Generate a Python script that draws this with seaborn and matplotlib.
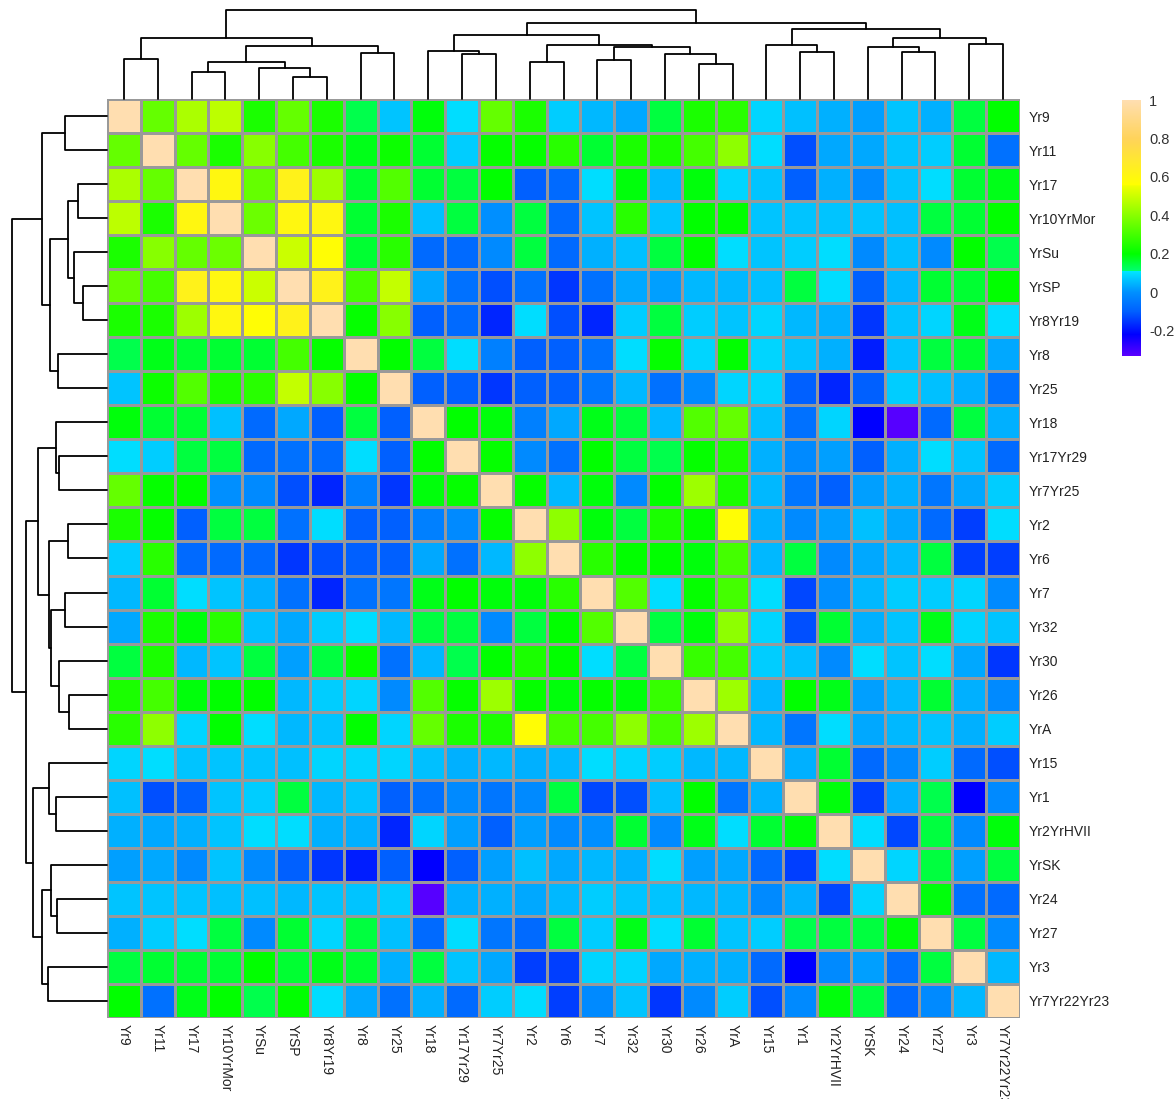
import numpy as np
import pandas as pd
import seaborn as sns
import matplotlib
matplotlib.use("Agg")
import matplotlib.pyplot as plt
from matplotlib.colors import LinearSegmentedColormap

# row / column order as shown (already clustered)
labels = ["Yr9", "Yr11", "Yr17", "Yr10YrMor", "YrSu", "YrSP", "Yr8Yr19", "Yr8", "Yr25",
          "Yr18", "Yr17Yr29", "Yr7Yr25", "Yr2", "Yr6", "Yr7", "Yr32", "Yr30", "Yr26",
          "YrA", "Yr15", "Yr1", "Yr2YrHVII", "YrSK", "Yr24", "Yr27", "Yr3", "Yr7Yr22Yr23"]

# upper triangle of the correlation matrix, row i holds columns i+1 .. end
upper_tri = [
    [0.35, 0.45, 0.48, 0.24, 0.35, 0.24, 0.14, 0.07, 0.19, 0.10, 0.35, 0.24, 0.08, 0.05, 0.03, 0.15, 0.24,
     0.26, 0.09, 0.06, 0.04, 0.02, 0.07, 0.04, 0.15, 0.20],
    [0.35, 0.24, 0.40, 0.30, 0.24, 0.18, 0.22, 0.16, 0.08, 0.21, 0.21, 0.26, 0.16, 0.24, 0.24, 0.30,
     0.41, 0.10, -0.12, 0.03, 0.03, 0.07, 0.08, 0.16, -0.06],
    [0.60, 0.35, 0.63, 0.43, 0.16, 0.32, 0.16, 0.15, 0.20, -0.10, -0.08, 0.10, 0.19, 0.05, 0.19,
     0.09, 0.07, -0.10, 0.04, -0.01, 0.07, 0.10, 0.16, 0.18],
    [0.36, 0.60, 0.60, 0.16, 0.24, 0.06, 0.15, 0.00, 0.15, -0.08, 0.07, 0.26, 0.07, 0.20,
     0.20, 0.07, 0.07, 0.07, 0.07, 0.06, 0.15, 0.16, 0.20],
    [0.50, 0.57, 0.16, 0.26, -0.08, -0.08, -0.01, 0.15, -0.08, 0.04, 0.06, 0.15, 0.20,
     0.10, 0.07, 0.08, 0.10, -0.01, 0.06, -0.01, 0.20, 0.14],
    [0.63, 0.30, 0.49, 0.03, -0.06, -0.12, -0.06, -0.15, -0.06, 0.03, 0.02, 0.05,
     0.05, 0.06, 0.15, 0.10, -0.10, 0.05, 0.16, 0.16, 0.20],
    [0.21, 0.40, -0.10, -0.08, -0.17, 0.10, -0.12, -0.17, 0.08, 0.15, 0.08,
     0.07, 0.09, 0.05, 0.04, -0.15, 0.07, 0.09, 0.18, 0.10],
    [0.20, 0.15, 0.10, -0.03, -0.10, -0.10, -0.06, 0.10, 0.21, 0.09,
     0.20, 0.09, 0.07, 0.04, -0.18, 0.07, 0.15, 0.16, 0.03],
    [-0.10, -0.10, -0.15, -0.10, -0.10, -0.05, 0.05, -0.06, -0.01,
     0.09, 0.09, -0.10, -0.17, -0.10, 0.08, 0.06, 0.04, -0.06],
    [0.20, 0.19, -0.03, 0.03, 0.18, 0.15, 0.05, 0.32, 0.35, 0.06, -0.06, 0.09, -0.22, -0.32, -0.08, 0.15, 0.04],
    [0.21, -0.01, -0.06, 0.20, 0.15, 0.14, 0.21, 0.24, 0.04, -0.01, 0.02, -0.10, 0.04, 0.10, 0.07, -0.08],
    [0.21, 0.05, 0.19, -0.01, 0.20, 0.43, 0.24, 0.05, -0.05, -0.10, 0.02, 0.04, -0.05, 0.03, 0.08],
    [0.41, 0.19, 0.15, 0.24, 0.21, 0.57, 0.04, -0.01, 0.02, 0.06, 0.03, -0.08, -0.14, 0.10],
    [0.26, 0.20, 0.20, 0.19, 0.30, 0.05, 0.15, -0.01, 0.03, 0.05, 0.15, -0.14, -0.14],
    [0.32, 0.10, 0.21, 0.30, 0.10, -0.13, 0.00, 0.05, 0.08, 0.08, 0.09, -0.01],
    [0.15, 0.19, 0.41, 0.09, -0.12, 0.16, 0.04, 0.07, 0.18, 0.09, 0.07],
    [0.28, 0.30, 0.08, 0.06, -0.01, 0.10, 0.07, 0.10, 0.03, -0.15],
    [0.43, 0.05, 0.20, 0.18, 0.02, 0.05, 0.16, 0.04, -0.01],
    [0.05, -0.05, 0.10, 0.03, 0.05, 0.07, 0.04, 0.08],
    [0.04, 0.16, -0.08, -0.01, 0.08, -0.08, -0.12],
    [0.19, -0.14, 0.04, 0.14, -0.22, -0.01],
    [0.10, -0.13, 0.15, -0.01, 0.19],
    [0.09, 0.15, 0.02, 0.15],
    [0.19, -0.06, -0.08],
    [0.15, -0.01],
    [0.05],
]

# dendrogram merges (scipy style: ids >= 27 are earlier merges), with heights
merges = [
    (0, 1, 119), (2, 3, 81), (5, 6, 67), (4, 29, 92), (28, 30, 111), (7, 8, 139),
    (31, 32, 160), (27, 33, 184), (10, 11, 134), (9, 35, 144), (12, 13, 110),
    (14, 15, 118), (17, 18, 106), (16, 39, 135), (38, 40, 156), (37, 41, 163),
    (36, 42, 193), (20, 21, 142), (19, 44, 163), (23, 24, 140), (22, 46, 157),
    (25, 26, 166), (47, 48, 184), (45, 49, 209), (43, 50, 227), (34, 51, 267),
]

cbar_ticks = [-0.2, 0, 0.2, 0.4, 0.6, 0.8, 1]
cbar_ticklabels = ["-0.2", "0", "0.2", "0.4", "0.6", "0.8", "1"]

n = len(labels)
mat = np.eye(n)
for i, row in enumerate(upper_tri):
    for k, v in enumerate(row):
        j = i + 1 + k
        mat[i, j] = v
        mat[j, i] = v
df = pd.DataFrame(mat, index=labels, columns=labels)

vmin, vmax = -0.33, 1.0
stops = [(-0.33, "#5a00ff"), (-0.22, "#0000ff"), (-0.1, "#0060ff"), (0.0, "#0090ff"),
         (0.109, "#00e6ff"), (0.111, "#00ff70"), (0.2, "#00ff00"), (0.555, "#f0ff00"),
         (0.56, "#ffff00"), (0.8, "#ffd35a"), (1.0, "#ffdeb0")]
cmap = LinearSegmentedColormap.from_list(
    "corr", [((v - vmin) / (vmax - vmin), c) for v, c in stops])

sns.set_style("white")
plt.rcParams["font.family"] = ["Liberation Sans", "DejaVu Sans"]

W, H = 1175, 1099
fig = plt.figure(figsize=(W / 100, H / 100), dpi=100)
ax_hm = fig.add_axes([107 / W, (H - 1018) / H, 913 / W, 919 / H])
ax_top = fig.add_axes([107 / W, (H - 99) / H, 913 / W, 89 / H])
ax_left = fig.add_axes([12 / W, (H - 1018) / H, 95 / W, 919 / H])
ax_cb = fig.add_axes([1122 / W, (H - 356) / H, 19 / W, 256 / H])

sns.heatmap(df, ax=ax_hm, cmap=cmap, vmin=vmin, vmax=vmax, linewidths=1,
            linecolor="#999999", cbar_ax=ax_cb, cbar_kws={"ticks": cbar_ticks})

ax_hm.yaxis.tick_right()
ax_hm.set_yticks(np.arange(n) + 0.5)
ax_hm.set_yticklabels(labels, rotation=0, fontsize=10, color="#222222")
ax_hm.set_xticks(np.arange(n) + 0.5)
ax_hm.set_xticklabels(labels, rotation=270, fontsize=10, color="#222222", ha="center", va="top")
ax_hm.tick_params(axis="x", length=0, pad=4)
ax_hm.tick_params(axis="y", length=0, pad=6)
ax_hm.set_xlabel("")
ax_hm.set_ylabel("")

cb = ax_hm.collections[0].colorbar
cb.outline.set_visible(False)
cb.ax.set_yticklabels(cbar_ticklabels)
cb.ax.tick_params(length=0, pad=6, labelsize=10.5, colors="#333333")


def draw_dendro(ax, side):
    pos = {i: i + 0.5 for i in range(n)}
    hgt = {i: 0.0 for i in range(n)}
    for k, (a, b, h) in enumerate(merges):
        xs = [pos[a], pos[a], pos[b], pos[b]]
        ys = [hgt[a], h, h, hgt[b]]
        if side == "top":
            ax.plot(xs, ys, color="black", lw=1.3, clip_on=False)
        else:
            ax.plot(ys, xs, color="black", lw=1.3, clip_on=False)
        pos[n + k] = (pos[a] + pos[b]) / 2
        hgt[n + k] = h
    root = merges[-1][2]
    if side == "top":
        ax.set_xlim(0, n)
        ax.set_ylim(0, root)
    else:
        ax.set_xlim(root, 0)
        ax.set_ylim(n, 0)
    ax.axis("off")


draw_dendro(ax_top, "top")
draw_dendro(ax_left, "left")

fig.savefig("out.png", dpi=100, facecolor="white")
